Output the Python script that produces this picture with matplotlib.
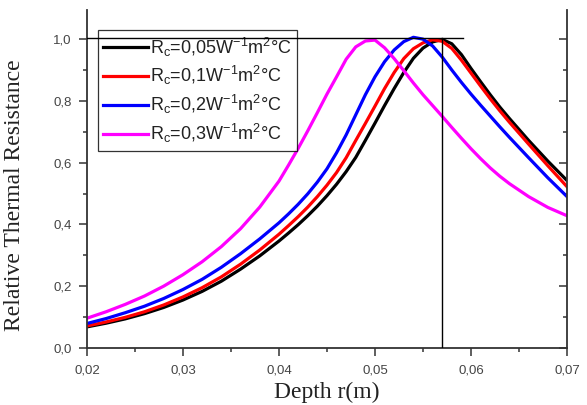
import numpy as np
import matplotlib
matplotlib.use("Agg")
import matplotlib.pyplot as plt
from matplotlib.ticker import MultipleLocator, FuncFormatter

# depth values (m), shared by all curves
depth = [0.020, 0.022, 0.024, 0.026, 0.028, 0.030, 0.032, 0.034, 0.036, 0.038,
         0.040, 0.041, 0.042, 0.043, 0.044, 0.045, 0.046, 0.047, 0.048, 0.049,
         0.050, 0.051, 0.052, 0.053, 0.054, 0.055, 0.056, 0.057, 0.058, 0.059,
         0.060, 0.061, 0.062, 0.063, 0.064, 0.066, 0.068, 0.070]

rc_005 = [0.068, 0.080, 0.094, 0.111, 0.131, 0.155, 0.183, 0.216, 0.255, 0.298,
          0.346, 0.372, 0.399, 0.428, 0.459, 0.493, 0.530, 0.571, 0.617, 0.672,
          0.728, 0.785, 0.840, 0.892, 0.938, 0.971, 0.991, 0.999, 0.985, 0.950,
          0.905, 0.862, 0.820, 0.780, 0.743, 0.672, 0.605, 0.542]
rc_01 = [0.071, 0.084, 0.099, 0.117, 0.139, 0.165, 0.195, 0.230, 0.271, 0.317,
         0.368, 0.396, 0.425, 0.456, 0.490, 0.527, 0.568, 0.616, 0.672, 0.727,
         0.783, 0.840, 0.892, 0.937, 0.969, 0.988, 0.998, 0.993, 0.970, 0.932,
         0.890, 0.848, 0.807, 0.768, 0.731, 0.660, 0.590, 0.522]
rc_02 = [0.079, 0.095, 0.114, 0.135, 0.160, 0.189, 0.222, 0.261, 0.305, 0.353,
         0.405, 0.434, 0.465, 0.499, 0.537, 0.580, 0.632, 0.690, 0.755, 0.820,
         0.878, 0.927, 0.965, 0.992, 1.006, 1.000, 0.978, 0.942, 0.900, 0.860,
         0.822, 0.786, 0.751, 0.716, 0.682, 0.616, 0.551, 0.490]
rc_03 = [0.096, 0.117, 0.141, 0.168, 0.200, 0.237, 0.279, 0.328, 0.386, 0.456,
         0.540, 0.592, 0.646, 0.703, 0.762, 0.822, 0.878, 0.935, 0.975, 0.994,
         0.997, 0.972, 0.937, 0.898, 0.858, 0.820, 0.785, 0.750, 0.714, 0.679,
         0.645, 0.613, 0.583, 0.556, 0.532, 0.490, 0.455, 0.428]

series = [rc_005, rc_01, rc_02, rc_03]
labels = ["R$_c$=0,05W$^{-1}$m$^{2}$°C", "R$_c$=0,1W$^{-1}$m$^{2}$°C",
          "R$_c$=0,2W$^{-1}$m$^{2}$°C", "R$_c$=0,3W$^{-1}$m$^{2}$°C"]
colors = ["black", "#ff0000", "#0000ff", "#ff00ff"]

# guide lines marking the maximum
peak_x = 0.057
peak_y = 1.005
guide_end = 0.0592

plt.rcParams["font.family"] = ["Liberation Sans", "DejaVu Sans"]
plt.rcParams["mathtext.fontset"] = "custom"
plt.rcParams["mathtext.rm"] = "Liberation Sans"
plt.rcParams["mathtext.it"] = "Liberation Sans"

fig = plt.figure(figsize=(5.87, 4.05), dpi=100)
ax = fig.add_axes([0.148, 0.141, 0.818, 0.834])

for vals, lab, col in zip(series, labels, colors):
    ax.plot(depth, vals, color=col, lw=2.3, label=lab, solid_joinstyle="round")

ax.set_xlim(0.02, 0.07)
ax.set_ylim(0, 1.094)

leg = ax.legend(loc="upper left", bbox_to_anchor=(0.023, 0.941), borderaxespad=0,
                fontsize=13, frameon=True, fancybox=False, handlelength=2.5,
                handletextpad=0.1, labelspacing=0.32, borderpad=0.3)
leg.get_frame().set_edgecolor("black")
leg.get_frame().set_linewidth(0.9)
for t in leg.get_texts():
    t.set_color("#222222")

ax.plot([0.02, guide_end], [peak_y, peak_y], color="black", lw=1, zorder=6)
ax.plot([peak_x, peak_x], [0, peak_y], color="black", lw=1, zorder=6)

ax.xaxis.set_major_locator(MultipleLocator(0.01))
ax.xaxis.set_minor_locator(MultipleLocator(0.005))
ax.yaxis.set_major_locator(MultipleLocator(0.2))
ax.yaxis.set_minor_locator(MultipleLocator(0.1))
ax.xaxis.set_major_formatter(FuncFormatter(lambda v, p: f"{v:.2f}".replace(".", ",")))
ax.yaxis.set_major_formatter(FuncFormatter(lambda v, p: f"{v:.1f}".replace(".", ",")))

ax.tick_params(which="both", direction="out", colors="#333333", labelcolor="#444444",
               labelsize=9.5, width=1.1)
ax.tick_params(which="major", length=6)
ax.tick_params(which="minor", length=3)
ax.tick_params(axis="y", which="both", right=True, labelright=False)
ax.tick_params(axis="y", which="major", pad=5)
ax.tick_params(axis="x", which="major", pad=6)

ax.spines["top"].set_visible(False)
for s in ("left", "right", "bottom"):
    ax.spines[s].set_color("#333333")
    ax.spines[s].set_linewidth(1.3)

# right side ticks point inward
for tick in ax.yaxis.get_major_ticks() + ax.yaxis.get_minor_ticks():
    tick.tick2line.set_marker(matplotlib.lines.TICKLEFT)

ax.set_xlabel("Depth r(m)", family="Liberation Serif", fontsize=17, color="#222222",
              labelpad=4)
ax.set_ylabel("Relative Thermal Resistance", family="Liberation Serif", fontsize=17,
              color="#222222")
ax.yaxis.set_label_coords(-0.129, 0.453)

fig.savefig("out.png", dpi=100)
